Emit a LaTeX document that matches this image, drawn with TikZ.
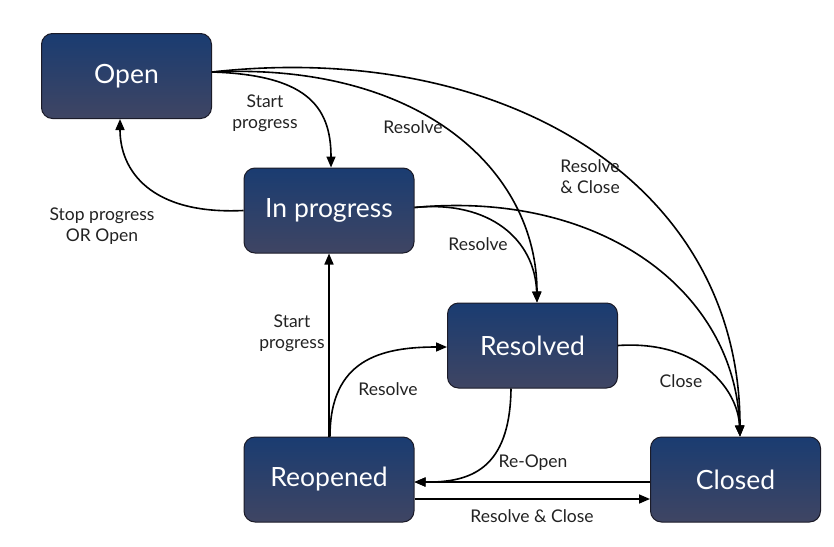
\documentclass[tikz,border=0pt]{standalone}
\usepackage{fontspec}
\setmainfont{Lato}
\usetikzlibrary{arrows.meta}
\definecolor{boxtop}{HTML}{1A3C71}
\definecolor{boxbot}{HTML}{3F4563}
\definecolor{boxline}{HTML}{1B1B28}
\definecolor{lbl}{HTML}{222222}
\tikzset{
  state/.style={draw=boxline, line width=1pt, rounded corners=11pt,
    top color=boxtop, bottom color=boxbot, minimum width=170pt, minimum height=85pt,
    text=white, font=\fontsize{26.5}{30}\selectfont, inner sep=0pt},
  conn/.style={line width=1.6pt, -{Triangle[length=11pt,width=9pt]}},
  lab/.style={text=lbl, font=\fontsize{17.5}{21}\selectfont, align=center, inner sep=1pt}
}
\begin{document}
\begin{tikzpicture}[x=1pt,y=1pt]
\useasboundingbox (0,0) rectangle (834,-546);
\node[state] (open) at (126.5,-76) {Open};
\node[state] (prog) at (329,-210.5) {In progress};
\node[state] (resd) at (532.5,-345.5) {Resolved};
\node[state] (reop) at (329,-479.5) {Reopened};
\node[state] (clsd) at (735.5,-479.5) {Closed};
% from Open
\draw[conn] ([yshift=4pt]open.east) .. controls (305,-75) and (331,-105) .. ([xshift=2pt]prog.north);
\draw[conn] ([yshift=4pt]open.east) .. controls (420,-62) and (537,-170) .. ([xshift=4.5pt]resd.north);
\draw[conn] ([yshift=4pt]open.east) .. controls (500,-40) and (740,-180) .. ([xshift=4.5pt]clsd.north);
% from In progress
\draw[conn] (prog.west) .. controls (150,-215) and (120,-170) .. ([xshift=-6.5pt]open.south);
\draw[conn] ([yshift=3pt]prog.east) .. controls (490,-200) and (535,-240) .. ([xshift=4.5pt]resd.north);
\draw[conn] ([yshift=3pt]prog.east) .. controls (600,-190) and (735,-290) .. ([xshift=4.5pt]clsd.north);
% from Reopened
\draw[conn] (reop.north) -- (prog.south);
\draw[conn] ([xshift=1pt]reop.north) .. controls (330,-360) and (380,-347) .. ([yshift=-1.5pt]resd.west);
\draw[conn] ([yshift=-19.5pt]reop.east) -- ([yshift=-19.5pt]clsd.west);
% from Resolved
\draw[conn] (resd.east) .. controls (700,-340) and (738,-390) .. ([xshift=4.5pt]clsd.north);
\draw[conn] ([xshift=-21.5pt]resd.south) .. controls (510,-470) and (470,-482.5) .. ([yshift=-2.5pt]reop.east);
% from Closed
\draw[conn] ([yshift=-2.5pt]clsd.west) -- ([yshift=-2.5pt]reop.east);
% labels
\node[lab] (l1) at (265,-113) {Start\\progress};
\node[lab] (l2) at (413,-127) {Resolve};
\node[lab] (l3) at (590,-177) {Resolve\\\& Close};
\node[lab] (l4) at (102,-226) {Stop progress\\OR Open};
\node[lab] (l5) at (478,-244) {Resolve};
\node[lab] (l6) at (292,-333) {Start\\progress};
\node[lab] (l7) at (388,-389) {Resolve};
\node[lab] (l8) at (681,-381) {Close};
\node[lab] (l9) at (533,-463) {Re-Open};
\node[lab] (l10) at (532,-516) {Resolve \& Close};
\end{tikzpicture}
\end{document}
